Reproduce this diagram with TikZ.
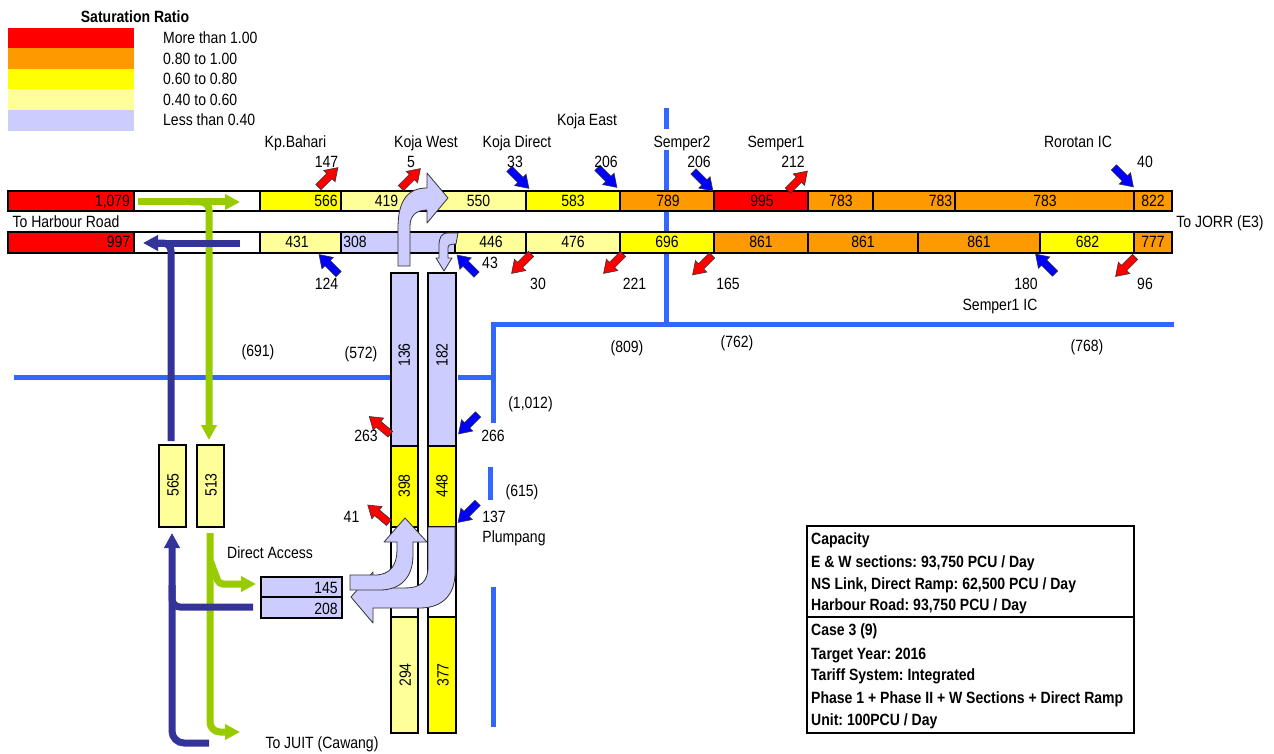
\documentclass[tikz,border=0pt]{standalone}
\usepackage{fontspec}
\setmainfont{Liberation Sans}[FakeStretch=0.86]
\usetikzlibrary{arrows.meta}
\frenchspacing
\definecolor{cRed}{HTML}{FF0000}
\definecolor{cOrange}{HTML}{FF9900}
\definecolor{cYellow}{HTML}{FFFF00}
\definecolor{cLYellow}{HTML}{FFFF99}
\definecolor{cLav}{HTML}{CCCCFF}
\definecolor{cLine}{HTML}{3366FF}
\definecolor{cDBlue}{HTML}{333399}
\definecolor{cGreen}{HTML}{99CC00}
\definecolor{cBlue}{HTML}{0000FF}
\tikzset{
  lbl/.style={inner sep=0pt, text height=11.7pt, text depth=0pt, font=\fontsize{16.3}{19}\selectfont\frenchspacing},
  boxtxt/.style={lbl, anchor=west, font=\fontsize{16.3}{19}\selectfont\bfseries\frenchspacing},
  segbox/.style={draw=black, line width=2pt},
  refline/.style={draw=cLine, line width=5pt},
  greenflow/.style={draw=cGreen, line width=7pt},
  blueflow/.style={draw=cDBlue, line width=7pt},
  tipA/.style={-{Triangle[length=15pt,width=15pt]}},
  bigarrow/.style={fill=cLav, draw=black!80, line width=0.8pt, line join=round},
}
\newcommand\fatarr[3]{\begin{scope}[shift={#1},rotate=#2]
  \filldraw[fill=#3,draw=black!80,line width=0.6pt] (-13.5,-3.7) -- (2,-3.7) -- (2,-8) -- (14,0) -- (2,8) -- (2,3.7) -- (-13.5,3.7) -- cycle;
\end{scope}}
\begin{document}
\begin{tikzpicture}[x=1pt,y=-1pt]
\useasboundingbox (0,0) rectangle (1274,754);
\fill[white] (0,0) rectangle (1274,754);

% ---------- legend ----------
\node[boxtxt, anchor=center] (legtitle) at (135,17) {Saturation Ratio};
\fill[cRed] (8,28) rectangle (134,48);
\fill[cOrange] (8,48) rectangle (134,69);
\fill[cYellow] (8,69) rectangle (134,89);
\fill[cLYellow] (8,89) rectangle (134,110);
\fill[cLav] (8,110) rectangle (134,131);
\node[lbl, anchor=west] (leg1) at (163,38) {More than 1.00};
\node[lbl, anchor=west] (leg2) at (163,58.5) {0.80 to 1.00};
\node[lbl, anchor=west] (leg3) at (163,79) {0.60 to 0.80};
\node[lbl, anchor=west] (leg4) at (163,99.5) {0.40 to 0.60};
\node[lbl, anchor=west] (leg5) at (163,120) {Less than 0.40};

% ---------- screen lines ----------
\draw[refline] (14,377) -- (392,377);
\draw[refline] (458,377) -- (493,377);
\draw[refline] (493,423) -- (493,324) -- (1174,324);
\draw[refline] (666,108) -- (666,129);
\draw[refline] (666,150) -- (666,326);
\draw[refline] (490,467) -- (490,500);
\draw[refline] (493,587) -- (493,727);

% ---------- main bars ----------
\foreach \a/\b/\c in {8/134/cRed,134/260/white,260/341/cYellow,341/526/cLYellow,526/620/cYellow,620/714/cOrange,714/808/cRed,808/873/cOrange,873/955/cOrange,955/1134/cOrange,1134/1172/cOrange}
  \filldraw[segbox, fill=\c] (\a,190.7) rectangle (\b,211.5);
\foreach \a/\b/\c in {8/134/cRed,134/260/white,260/341/cLYellow,341/455/cLav,455/526/cLYellow,526/620/cLYellow,620/714/cYellow,714/808/cOrange,808/918/cOrange,918/1040/cOrange,1040/1134/cYellow,1134/1172/cOrange}
  \filldraw[segbox, fill=\c] (\a,231.7) rectangle (\b,252.7);

% ---------- ramps ----------
\filldraw[segbox, fill=cLav] (390.7,272.7) rectangle (418,446);
\filldraw[segbox, fill=cYellow] (390.7,446) rectangle (418,526.7);
\filldraw[segbox, fill=white] (390.7,526.7) rectangle (418,617);
\filldraw[segbox, fill=cLYellow] (390.7,617) rectangle (418,733);
\filldraw[segbox, fill=cLav] (428,272.7) rectangle (455.7,446);
\filldraw[segbox, fill=cYellow] (428,446) rectangle (455.7,526.7);
\filldraw[segbox, fill=white] (428,526.7) rectangle (455.7,617);
\filldraw[segbox, fill=cYellow] (428,617) rectangle (455.7,733);

% ---------- harbour road boxes ----------
\filldraw[segbox, fill=cLYellow] (159.3,445) rectangle (186,526.7);
\filldraw[segbox, fill=cLYellow] (197.3,445) rectangle (224,526.7);
\filldraw[segbox, fill=cLav] (260.7,576.7) rectangle (342.3,597.3);
\filldraw[segbox, fill=cLav] (260.7,597.3) rectangle (342.3,618.3);

% ---------- flow lines ----------
\draw[greenflow, tipA] (138,202) -- (240,202);
\draw[greenflow, tipA, rounded corners=8pt] (190,202) -| (209,440);
\draw[blueflow, tipA] (240,243) -- (143,243);
\draw[blueflow, rounded corners=8pt] (171,441) |- (152,243);
\draw[greenflow, tipA, rounded corners=10pt] (210,533) |- (240,732);
\draw[greenflow, tipA, rounded corners=4pt] (210,560) -- (219,584) -- (256,584);
\draw[blueflow, tipA, rounded corners=12pt] (209,743) -| (172,533);
\draw[blueflow, rounded corners=8pt] (253,607) -| (172,585);

% ---------- big lavender arrows ----------
\filldraw[bigarrow] (398,266) -- (398,228) .. controls (398,200) and (408,188) .. (427,188) -- (427,173) -- (448,198) -- (427,223) -- (427,210) .. controls (416,210) and (410,216) .. (410,226) -- (410,266) -- cycle;
\filldraw[bigarrow] (458,233) -- (448,233) .. controls (441,233) and (439,238) .. (439,246) -- (439,258) -- (436,258) -- (444,271) -- (452,258) -- (448,258) -- (448,248) .. controls (448,245) and (450,244) .. (456,244) -- cycle;
\filldraw[bigarrow] (428,527) -- (428,567) .. controls (428,582) and (420,588) .. (405,588) -- (373,588) -- (373,572) -- (351,597) -- (373,623) -- (373,608) -- (420,608) .. controls (442,608) and (455,595) .. (455,573) -- (455,527) -- cycle;
\filldraw[bigarrow] (350,575) -- (375,575) .. controls (390,575) and (397,565) .. (397,550) -- (397,542) -- (384,542) -- (405,518) -- (427,542) -- (413,542) -- (413,555) .. controls (413,578) and (400,590) .. (380,590) -- (350,590) -- cycle;

% ---------- small on/off ramp arrows ----------
\fatarr{(328,177.5)}{45}{cRed}
\fatarr{(410.5,178.5)}{45}{cRed}
\fatarr{(519,178.5)}{-45}{cBlue}
\fatarr{(607,177.5)}{-45}{cBlue}
\fatarr{(703,181)}{-45}{cBlue}
\fatarr{(797.5,181)}{45}{cRed}
\fatarr{(1123.5,177)}{-45}{cBlue}
\fatarr{(329,264.5)}{135}{cBlue}
\fatarr{(467,265)}{135}{cBlue}
\fatarr{(521.5,263.5)}{225}{cRed}
\fatarr{(613.5,263.5)}{225}{cRed}
\fatarr{(702.5,265)}{225}{cRed}
\fatarr{(1045.5,264)}{135}{cBlue}
\fatarr{(1125.5,266.5)}{225}{cRed}
\fatarr{(380,425.5)}{140}{cRed}
\fatarr{(468.5,424)}{225}{cBlue}
\fatarr{(378.5,514)}{140}{cRed}
\fatarr{(468,512.5)}{225}{cBlue}

% ---------- bar values ----------
\node[lbl] (t1079) at (112.5,201) {1,079};
\node[lbl] (t566) at (326,201) {566};
\node[lbl] (t419) at (386.5,201) {419};
\node[lbl] (t550) at (478.5,201) {550};
\node[lbl] (t583) at (573,201) {583};
\node[lbl] (t789) at (668,201) {789};
\node[lbl] (t995) at (762,201) {995};
\node[lbl] (t783a) at (841,201) {783};
\node[lbl] (t783b) at (940.5,201) {783};
\node[lbl] (t783c) at (1045,201) {783};
\node[lbl] (t822) at (1153,201) {822};
\node[lbl] (b997) at (118.5,242) {997};
\node[lbl] (b431) at (297,242) {431};
\node[lbl] (b308) at (355,242) {308};
\node[lbl] (b446) at (491,242) {446};
\node[lbl] (b476) at (573,242) {476};
\node[lbl] (b696) at (667,242) {696};
\node[lbl] (b861a) at (761,242) {861};
\node[lbl] (b861b) at (863,242) {861};
\node[lbl] (b861c) at (979,242) {861};
\node[lbl] (b682) at (1087.5,242) {682};
\node[lbl] (b777) at (1153,242) {777};

% ---------- ramp values ----------
\node[lbl, rotate=90] (r136) at (404,355) {136};
\node[lbl, rotate=90] (r182) at (441.7,355) {182};
\node[lbl, rotate=90] (r398) at (404,486) {398};
\node[lbl, rotate=90] (r448) at (441.7,486) {448};
\node[lbl, rotate=90] (r294) at (405,675) {294};
\node[lbl, rotate=90] (r377) at (442.7,675) {377};
\node[lbl, rotate=90] (r565) at (172.7,485) {565};
\node[lbl, rotate=90] (r513) at (210.7,485) {513};
\node[lbl] (d145) at (326,588) {145};
\node[lbl] (d208) at (326,609) {208};

% ---------- place names and ramp volumes ----------
\node[lbl] (nKpB) at (295.5,141.7) {Kp.Bahari};
\node[lbl] (nKojaW) at (426,141.7) {Koja West};
\node[lbl] (nKojaD) at (517,141.7) {Koja Direct};
\node[lbl] (nKojaE) at (587,120) {Koja East};
\node[lbl] (nSemp2) at (682,141.7) {Semper2};
\node[lbl] (nSemp1) at (776,141.7) {Semper1};
\node[lbl] (nRoro) at (1078,141.7) {Rorotan IC};
\node[lbl] (v147) at (326.5,162) {147};
\node[lbl] (v5) at (411,162) {5};
\node[lbl] (v33) at (515,162) {33};
\node[lbl] (v206a) at (606,162) {206};
\node[lbl] (v206b) at (699,162) {206};
\node[lbl] (v212) at (793,162) {212};
\node[lbl] (v40) at (1145,162) {40};
\node[lbl] (nHarb) at (66,221.7) {To Harbour Road};
\node[lbl] (nJorr) at (1220,222) {To JORR (E3)};
\node[lbl] (v124) at (326.5,284) {124};
\node[lbl] (v43) at (490,263) {43};
\node[lbl] (v30) at (538,284) {30};
\node[lbl] (v221) at (634.5,284) {221};
\node[lbl] (v165) at (728,284) {165};
\node[lbl] (v180) at (1026,284) {180};
\node[lbl] (v96) at (1145,284) {96};
\node[lbl] (nSemp1IC) at (1000,305) {Semper1 IC};
\node[lbl] (v263) at (366,436) {263};
\node[lbl] (v266) at (493,436) {266};
\node[lbl] (v41) at (351.5,517) {41};
\node[lbl] (v137) at (494,517) {137};
\node[lbl] (nPlum) at (514,537) {Plumpang};
\node[lbl] (nDirect) at (270,552.7) {Direct Access};
\node[lbl] (nJuit) at (322,743) {To JUIT (Cawang)};

% ---------- screen line volumes ----------
\node[lbl] (s691) at (258,351) {(691)};
\node[lbl] (s572) at (361,353) {(572)};
\node[lbl] (s809) at (627,346.7) {(809)};
\node[lbl] (s762) at (737,342) {(762)};
\node[lbl] (s768) at (1087,346) {(768)};
\node[lbl] (s1012) at (530.5,402.7) {(1,012)};
\node[lbl] (s615) at (522,490.7) {(615)};

% ---------- information box ----------
\draw[line width=2pt] (807.3,526) rectangle (1134.3,733.3);
\draw[line width=2pt] (807.3,616.7) -- (1134.3,616.7);
\node[boxtxt] (i1) at (811,539) {Capacity};
\node[boxtxt] (i2) at (811,561.7) {E \& W sections: 93,750 PCU / Day};
\node[boxtxt] (i3) at (811,583.3) {NS Link, Direct Ramp: 62,500 PCU / Day};
\node[boxtxt] (i4) at (811,605) {Harbour Road: 93,750 PCU / Day};
\node[boxtxt] (i5) at (811,629.3) {Case 3 (9)};
\node[boxtxt] (i6) at (811,653.3) {Target Year: 2016};
\node[boxtxt] (i7) at (811,675) {Tariff System: Integrated};
\node[boxtxt] (i8) at (811,697.7) {Phase 1 + Phase II + W Sections + Direct Ramp};
\node[boxtxt] (i9) at (811,720) {Unit: 100PCU / Day};
\end{tikzpicture}
\end{document}
